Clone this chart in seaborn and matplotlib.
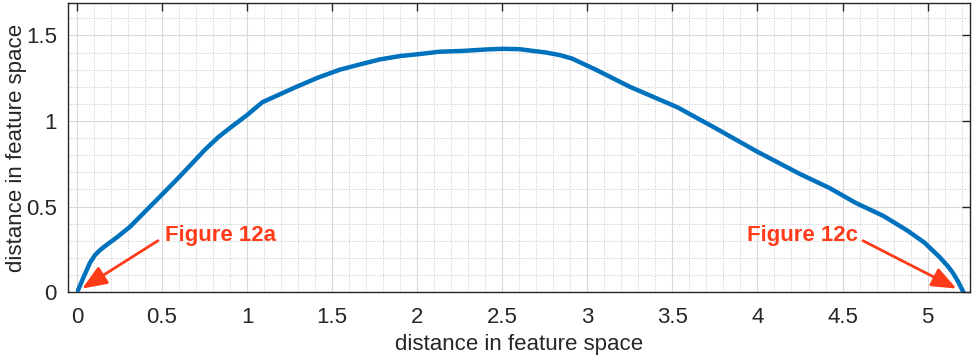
import numpy as np
import pandas as pd
import matplotlib
matplotlib.use("Agg")
import matplotlib.pyplot as plt
import seaborn as sns
from matplotlib.ticker import MultipleLocator

# curve
x_vals = [0.006, 0.04, 0.076, 0.105, 0.135, 0.18, 0.235, 0.31, 0.39, 0.48, 0.585,
          0.67, 0.75, 0.83, 0.90, 1.0, 1.09, 1.19, 1.29, 1.42, 1.545, 1.66, 1.78,
          1.9, 2.0, 2.13, 2.27, 2.4, 2.5, 2.6, 2.68, 2.76, 2.84, 2.91, 3.05, 3.25,
          3.53, 3.75, 4.0, 4.25, 4.42, 4.58, 4.74, 4.88, 4.98, 5.07, 5.12, 5.15,
          5.18, 5.21]
y_vals = [0.01, 0.09, 0.17, 0.215, 0.245, 0.28, 0.32, 0.38, 0.46, 0.55, 0.656,
          0.745, 0.83, 0.905, 0.96, 1.035, 1.11, 1.155, 1.20, 1.255, 1.30, 1.33,
          1.36, 1.38, 1.39, 1.405, 1.41, 1.418, 1.422, 1.42, 1.41, 1.40, 1.385,
          1.365, 1.30, 1.20, 1.08, 0.96, 0.82, 0.69, 0.61, 0.52, 0.445, 0.36,
          0.29, 0.205, 0.15, 0.11, 0.06, 0.0]

# annotations: label, text pos, arrow tail, arrow head
ann_labels = ["Figure 12a", "Figure 12c"]
ann_text_xy = [(0.52, 0.33), (4.59, 0.33)]
ann_tail_xy = [(0.476, 0.30), (4.62, 0.30)]
ann_head_xy = [(0.03, 0.02), (5.17, 0.02)]
ann_align = ["left", "right"]

df = pd.DataFrame({"x": x_vals, "y": y_vals})

sns.set_style("white")
plt.rcParams["font.family"] = ["Liberation Sans", "DejaVu Sans"]

fig = plt.figure(figsize=(9.75, 3.57), dpi=100)
ax = fig.add_axes([0.0697, 0.182, 0.9253, 0.8096])

sns.lineplot(data=df, x="x", y="y", ax=ax, color="#0072BD", linewidth=3.2, sort=False)

ax.set_xlim(-0.053, 5.25)
ax.set_ylim(0, 1.69)
ax.xaxis.set_minor_locator(MultipleLocator(0.1))
ax.yaxis.set_minor_locator(MultipleLocator(0.1))
ax.set_xticks([0, 0.5, 1, 1.5, 2, 2.5, 3, 3.5, 4, 4.5, 5])
ax.set_xticklabels(["0", "0.5", "1", "1.5", "2", "2.5", "3", "3.5", "4", "4.5", "5"])
ax.set_yticks([0, 0.5, 1, 1.5])
ax.set_yticklabels(["0", "0.5", "1", "1.5"])

ax.grid(which="major", color="#d9d9d9", linewidth=0.8)
ax.grid(which="minor", color="#c8c8c8", linestyle=":", linewidth=0.7)
ax.set_axisbelow(True)

ax.tick_params(which="major", direction="in", length=6, width=1, top=True, right=True,
               labelsize=16, colors="#262626", pad=8)
ax.tick_params(axis="x", which="major", pad=11)
ax.tick_params(which="minor", length=0)
for s in ax.spines.values():
    s.set_color("#262626")
    s.set_linewidth(1)

ax.set_xlabel("distance in feature space", fontsize=16, color="#262626", labelpad=4)
ax.set_ylabel("distance in feature space", fontsize=16, color="#262626", va="center")
ax.yaxis.set_label_coords(-0.057, 0.5)

for lab, txy, sxy, hxy, ha in zip(ann_labels, ann_text_xy, ann_tail_xy, ann_head_xy, ann_align):
    ax.text(txy[0], txy[1], lab, ha=ha, va="center", fontsize=16,
            fontweight="bold", color="#FF3B1A")
    ax.annotate("", xy=hxy, xytext=sxy,
                arrowprops=dict(arrowstyle="-|>,head_length=1.0,head_width=0.4",
                                mutation_scale=15, color="#FF3B1A", lw=2,
                                shrinkA=0, shrinkB=0))

fig.savefig("out.png", dpi=100)
